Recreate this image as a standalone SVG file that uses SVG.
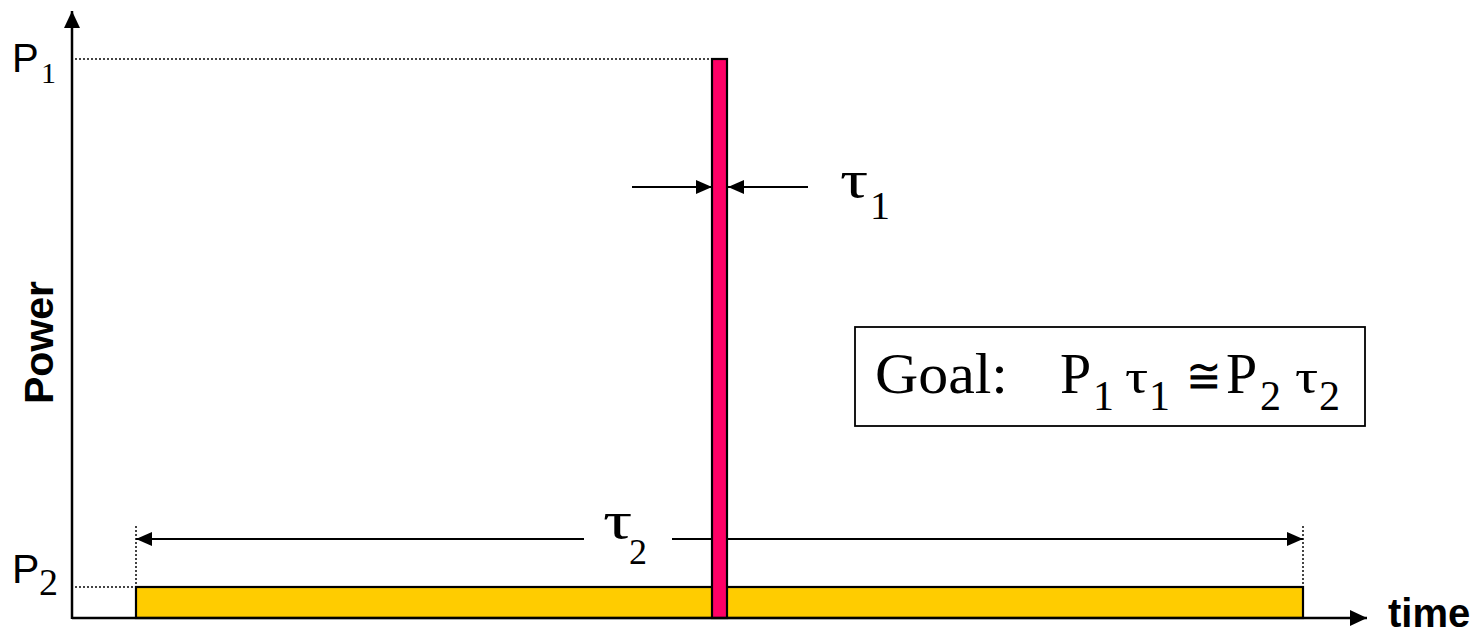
<svg xmlns="http://www.w3.org/2000/svg" width="1479" height="633" viewBox="0 0 1479 633">
<style>
.ax{stroke:#000;stroke-width:2.5;fill:none}
.ln{stroke:#000;stroke-width:2.2;fill:none}
.dot{stroke:#444;stroke-width:2;stroke-dasharray:2 2;fill:none}
.sans{font-family:"Liberation Sans",Arial,sans-serif;fill:#000}
.serif{font-family:"Liberation Serif","Times New Roman",serif;fill:#000}
</style>
<defs>
<marker id="ah" markerUnits="userSpaceOnUse" markerWidth="16" markerHeight="16" viewBox="0 0 16 16" refX="16" refY="8" orient="auto">
<path d="M0,1 L16,8 L0,15 Z" fill="#000"/>
</marker>
<marker id="axh" markerUnits="userSpaceOnUse" markerWidth="17" markerHeight="18" viewBox="0 0 17 18" refX="17" refY="9" orient="auto">
<path d="M0,1 L17,9 L0,17 Z" fill="#000"/>
</marker>
</defs>
<g id="guides">
<line class="dot" x1="75" y1="59" x2="712" y2="59"/>
<line class="dot" x1="75" y1="587" x2="136" y2="587"/>
<line class="dot" x1="136" y1="526" x2="136" y2="587"/>
<line class="dot" x1="1303" y1="526" x2="1303" y2="587"/>
</g>
<g id="bar-p2">
<rect x="136" y="587" width="1167" height="31" fill="#FFCC00" stroke="#000" stroke-width="2.2"/>
</g>
<g id="connectors">
<line class="ln" x1="584" y1="539" x2="136" y2="539" marker-end="url(#ah)"/>
<line class="ln" x1="672" y1="539" x2="1303" y2="539" marker-end="url(#ah)"/>
<line class="ln" x1="632" y1="187" x2="712" y2="187" marker-end="url(#ah)"/>
<line class="ln" x1="808" y1="187" x2="728" y2="187" marker-end="url(#ah)"/>
</g>
<g id="pulse-p1">
<rect x="712" y="59" width="15" height="559" fill="#FF0066" stroke="#000" stroke-width="2.2"/>
</g>
<g id="axes">
<line class="ax" x1="72" y1="619" x2="72" y2="11" marker-end="url(#axh)"/>
<line class="ax" x1="72" y1="618" x2="1367" y2="618" marker-end="url(#axh)"/>
</g>
<g id="labels">
<text class="sans" x="12" y="72" font-size="40">P</text>
<text class="serif" x="41" y="83" font-size="30">1</text>
<text class="sans" x="12" y="583" font-size="41">P</text>
<text class="serif" x="39" y="595" font-size="38">2</text>
<text class="sans" font-size="41" font-weight="bold" text-anchor="middle" transform="translate(53,342.5) rotate(-90)">Power</text>
<text class="sans" x="1388" y="627" font-size="40" font-weight="bold">time</text>
<text class="serif" font-size="52" transform="translate(840,197) scale(1.35,1)">τ</text>
<text class="serif" x="870" y="219" font-size="40">1</text>
<text class="serif" font-size="52" transform="translate(603,538) scale(1.4,1)">τ</text>
<text class="serif" x="629" y="564" font-size="36">2</text>
</g>
<g id="goal">
<rect x="855" y="327" width="510" height="99" fill="#fff" stroke="#000" stroke-width="1.8"/>
<text class="serif" x="875" y="393" font-size="58" textLength="133" lengthAdjust="spacingAndGlyphs">Goal:</text>
<text class="serif" x="1060" y="393" font-size="56">P</text>
<text class="serif" x="1093" y="410" font-size="42">1</text>
<text class="serif" font-size="48" transform="translate(1125,393) scale(1.2,1)">τ</text>
<text class="serif" x="1149" y="410" font-size="42">1</text>
<text class="serif" font-size="50" transform="translate(1186,393) scale(0.85,1)">≅</text>
<text class="serif" x="1226" y="393" font-size="56">P</text>
<text class="serif" x="1260" y="410" font-size="42">2</text>
<text class="serif" font-size="48" transform="translate(1295,393) scale(1.2,1)">τ</text>
<text class="serif" x="1319" y="410" font-size="42">2</text>
</g>
</svg>
